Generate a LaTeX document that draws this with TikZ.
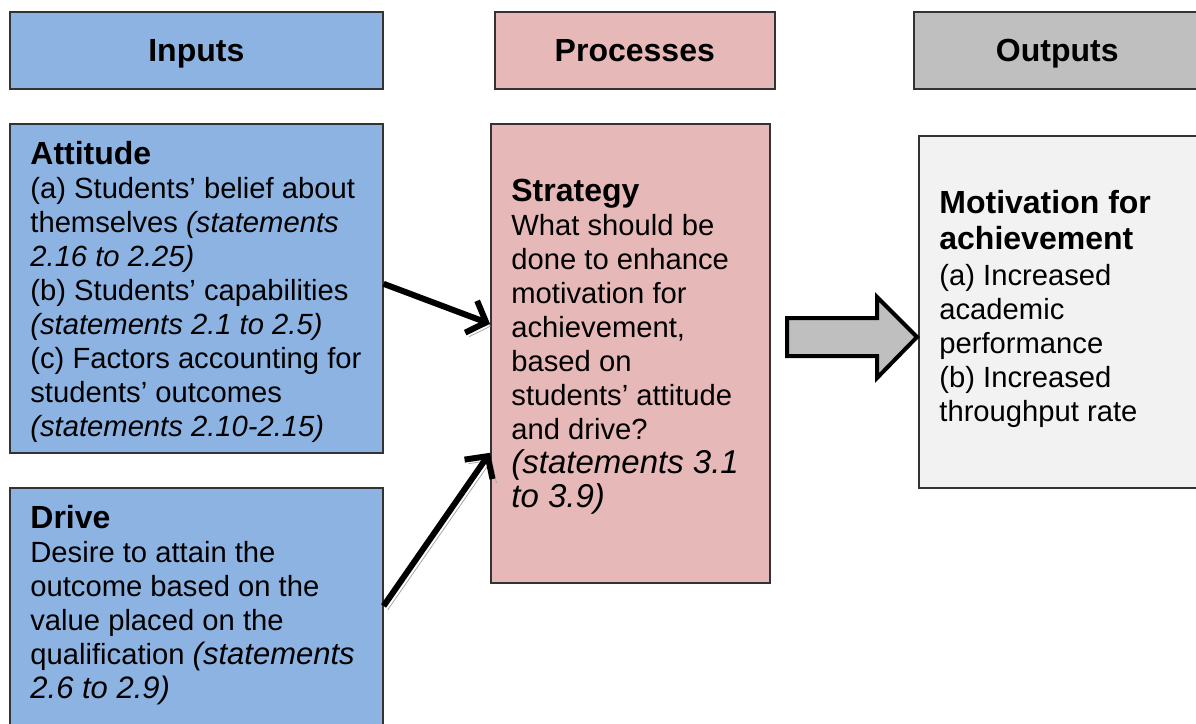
\documentclass[tikz,border=0pt]{standalone}
\usepackage{fontspec}
\setmainfont{Liberation Sans}
\usetikzlibrary{arrows.meta}

\definecolor{inblue}{HTML}{8DB3E2}
\definecolor{procpink}{HTML}{E6B9B8}
\definecolor{outgrey}{HTML}{BFBFBF}
\definecolor{outpale}{HTML}{F2F2F2}

% bold first line of a box, and the italic statement references
\newcommand{\boxhead}[1]{{\fontsize{16}{18.5}\selectfont\bfseries #1}}
\newcommand{\refs}[2][14.6]{{\fontsize{#1}{17}\selectfont\itshape #2}}

\begin{document}
\begin{tikzpicture}[x=0.5pt,y=-0.5pt,
    box/.style={draw=black!80, line width=0.8pt, anchor=north west, inner sep=0pt},
    head/.style={box, font=\fontsize{16}{18.5}\selectfont\bfseries, minimum height=38.5pt,
      text height=11.6pt, text depth=0pt},
    body/.style={align=left, inner sep=0pt, font=\fontsize{14.6}{17}\selectfont},
    link/.style={line width=3pt, -{Straight Barb[length=8pt,width=17pt]},
      preaction={draw=black!35, transform canvas={shift={(2pt,-2pt)}}}},
    fatarrow/.style={draw=black, line width=2pt, fill=black!25, line join=miter}]
  \useasboundingbox (0,0) rectangle (1196,724);

  % column headings
  \node (inputs) at (9,11) [head, fill=inblue, minimum width=186.5pt] {Inputs};
  \node (processes) at (494,11) [head, fill=procpink, minimum width=140pt] {Processes};
  \node (outputs) at (913,11) [head, fill=outgrey, minimum width=143.5pt] {Outputs};

  % boxes
  \node (att) at (9,123) [box, fill=inblue, minimum width=186.5pt, minimum height=164.5pt] {};
  \node (drive) at (9,487) [box, fill=inblue, minimum width=186.5pt, minimum height=150pt] {};
  \node (strat) at (490,123) [box, fill=procpink, minimum width=139.5pt, minimum height=229.5pt] {};
  \node (out) at (918,135) [box, fill=outpale, minimum width=141pt, minimum height=176pt] {};

  % box texts
  \node (atttext) at ([shift={(10.5pt,-2pt)}]att.west) [body, anchor=west] {%
    \boxhead{Attitude}\\
    (a) Students’ belief about\\
    themselves \refs{(statements}\\
    \refs{2.16 to 2.25)}\\
    (b) Students’ capabilities\\
    \refs{(statements 2.1 to 2.5)}\\
    (c) Factors accounting for\\
    students’ outcomes\\
    \refs{(statements 2.10-2.15)}};
  \node (drivetext) at ([shift={(10.5pt,-8.8pt)}]drive.north west) [body, anchor=north west] {%
    \boxhead{Drive}\\
    Desire to attain the\\
    outcome based on the\\
    value placed on the\\
    qualification \refs[15.5]{(statements}\\
    \refs[15.5]{2.6 to 2.9)}};
  \node (strattext) at ([shift={(10.5pt,3.5pt)}]strat.west) [body, anchor=west] {%
    \boxhead{Strategy}\\
    What should be\\
    done to enhance\\
    motivation for\\
    achievement,\\
    based on\\
    students’ attitude\\
    and drive?\\
    \refs[16.5]{(statements 3.1}\\
    \refs[16.5]{to 3.9)}};
  \node (outtext) at ([shift={(10.5pt,1.5pt)}]out.west) [body, anchor=west] {%
    \boxhead{Motivation for}\\[1pt]
    \boxhead{achievement}\\[1pt]
    (a) Increased\\
    academic\\
    performance\\
    (b) Increased\\
    throughput rate};

  % connectors
  \draw[link] ([yshift=2.25pt]att.east) -- ([yshift=14.75pt]strat.west);
  \draw[link] ([yshift=-59.5pt]drive.north east) -- ([yshift=-49.75pt]strat.west);
  \draw[fatarrow] (787,318) -- (877,318) -- (877,297) -- (917,337)
    -- (877,378) -- (877,356) -- (787,356) -- cycle;
\end{tikzpicture}
\end{document}
